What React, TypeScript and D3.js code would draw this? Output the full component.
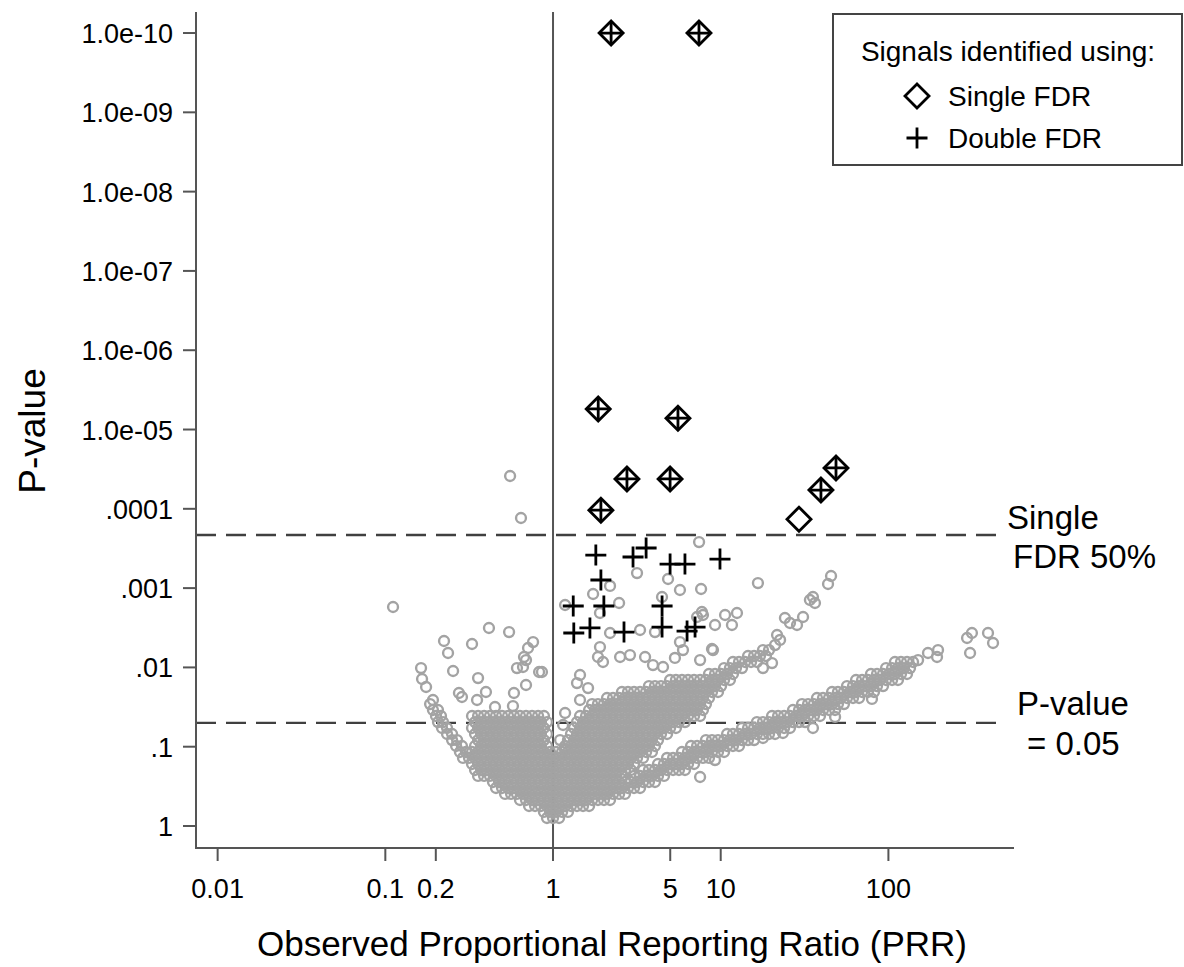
import React from "react";
import * as d3 from "d3";

const W = 1184;
const H = 967;

const xDomain = [0.00743, 561];
const yDomain = [1.894, 5.43e-11];
const xTicks = [0.01, 0.1, 0.2, 1, 5, 10, 100];
const xTickLabels = ["0.01", "0.1", "0.2", "1", "5", "10", "100"];
const yTicks = [1e-10, 1e-9, 1e-8, 1e-7, 1e-6, 1e-5, 1e-4, 1e-3, 1e-2, 1e-1, 1];
const yTickLabels = ["1.0e-10", "1.0e-09", "1.0e-08", "1.0e-07", "1.0e-06", "1.0e-05", ".0001", ".001", ".01", ".1", "1"];

const singleFdrThreshold = 2.14e-4;
const pValueThreshold = 0.05;

// [PRR, p-value]
const singleFDR: [number, number][] = [
  [2.22, 1.0e-10], [7.42, 1.0e-10], [1.86, 5.5e-6], [5.56, 7.2e-6], [2.76, 4.2e-5],
  [4.99, 4.2e-5], [1.93, 1.04e-4], [48.7, 3.05e-5], [39.6, 5.8e-5], [29.3, 1.35e-4],
];
const doubleFDR: [number, number][] = [
  [2.22, 1.0e-10], [7.42, 1.0e-10], [1.86, 5.5e-6], [5.56, 7.2e-6], [2.76, 4.2e-5],
  [4.99, 4.2e-5], [1.93, 1.04e-4], [48.7, 3.05e-5], [39.6, 5.8e-5],
  [1.8, 3.83e-4], [3.0, 4.05e-4], [3.59, 3.12e-4], [4.99, 4.97e-4], [6.12, 4.97e-4], [9.9, 4.3e-4],
  [1.93, 7.9e-4], [1.32, 1.68e-3], [2.01, 1.68e-3], [4.47, 1.68e-3], [1.33, 3.68e-3],
  [1.66, 3.18e-3], [2.65, 3.58e-3], [4.47, 3.1e-3], [6.3, 3.48e-3], [7.03, 3.1e-3],
];

// all other drug-event pairs, read in log units: rows of [-log10 p, [log10 PRR ...]]
const denseRows: [number, number[]][] = [
  [0.101, [-0.036, 0, 0.036]],
  [0.177, [-0.054, -0.018, 0.018, 0.054, 0.089]],
  [0.252, [-0.143, -0.107, -0.072, -0.036, 0, 0.036, 0.072, 0.107, 0.143, 0.179, 0.215]],
  [0.328, [-0.197, -0.161, -0.125, -0.089, -0.054, -0.018, 0.018, 0.054, 0.089, 0.125, 0.161, 0.197, 0.233, 0.268, 0.304, 0.34]],
  [0.404, [-0.286, -0.25, -0.215, -0.179, -0.143, -0.107, -0.072, -0.036, 0, 0.036, 0.072, 0.107, 0.143, 0.179, 0.215, 0.25, 0.286, 0.322, 0.358, 0.394, 0.429]],
  [0.479, [-0.34, -0.304, -0.268, -0.233, -0.197, -0.161, -0.125, -0.089, -0.054, -0.018, 0.018, 0.054, 0.089, 0.125, 0.161, 0.197, 0.233, 0.268, 0.304, 0.34, 0.376, 0.411, 0.447, 0.483, 0.519]],
  [0.555, [-0.358, -0.322, -0.286, -0.25, -0.215, -0.179, -0.143, -0.107, -0.072, -0.036, 0, 0.036, 0.072, 0.107, 0.143, 0.179, 0.215, 0.25, 0.286, 0.322, 0.358, 0.394, 0.429, 0.465, 0.501, 0.537, 0.572, 0.608]],
  [0.631, [-0.447, -0.411, -0.376, -0.34, -0.304, -0.268, -0.233, -0.197, -0.161, -0.125, -0.089, -0.054, -0.018, 0.018, 0.054, 0.089, 0.125, 0.161, 0.197, 0.233, 0.268, 0.304, 0.34, 0.376, 0.411, 0.483, 0.519, 0.555, 0.59, 0.626, 0.662]],
  [0.706, [-0.465, -0.429, -0.394, -0.358, -0.322, -0.286, -0.25, -0.215, -0.179, -0.143, -0.107, -0.072, -0.036, 0, 0.036, 0.072, 0.107, 0.143, 0.179, 0.215, 0.25, 0.286, 0.322, 0.358, 0.394, 0.429, 0.465, 0.537, 0.572, 0.608, 0.644, 0.68, 0.716, 0.751, 0.787]],
  [0.782, [-0.483, -0.447, -0.411, -0.376, -0.34, -0.304, -0.268, -0.233, -0.197, -0.161, -0.125, -0.089, -0.054, -0.018, 0.018, 0.054, 0.089, 0.125, 0.161, 0.197, 0.233, 0.268, 0.304, 0.34, 0.376, 0.411, 0.447, 0.483, 0.626, 0.662, 0.698, 0.733, 0.769, 0.805, 0.841]],
  [0.858, [-0.537, -0.501, -0.465, -0.429, -0.394, -0.358, -0.322, -0.286, -0.25, -0.215, -0.179, -0.143, -0.107, -0.072, -0.036, 0, 0.036, 0.072, 0.107, 0.143, 0.179, 0.215, 0.25, 0.286, 0.322, 0.358, 0.394, 0.429, 0.465, 0.501, 0.537, 0.68, 0.716, 0.751, 0.787, 0.823, 0.859, 0.894, 0.93]],
  [0.933, [-0.555, -0.519, -0.483, -0.447, -0.411, -0.376, -0.34, -0.304, -0.268, -0.233, -0.197, -0.161, -0.125, -0.089, -0.054, -0.018, 0.018, 0.054, 0.089, 0.125, 0.161, 0.197, 0.233, 0.268, 0.304, 0.34, 0.376, 0.411, 0.447, 0.483, 0.519, 0.555, 0.59, 0.769, 0.805, 0.841, 0.877, 0.912, 0.948, 0.984, 1.02]],
  [1.009, [-0.578, -0.543, -0.465, -0.429, -0.394, -0.358, -0.322, -0.286, -0.25, -0.215, -0.179, -0.143, -0.107, -0.072, -0.036, 0.072, 0.107, 0.143, 0.179, 0.215, 0.25, 0.286, 0.322, 0.358, 0.394, 0.429, 0.465, 0.501, 0.537, 0.572, 0.608, 0.823, 0.859, 0.894, 0.93, 0.966, 1.002, 1.038, 1.073, 1.109]],
  [1.084, [-0.602, -0.572, -0.447, -0.411, -0.376, -0.34, -0.304, -0.268, -0.233, -0.197, -0.161, -0.125, -0.089, -0.054, 0.089, 0.125, 0.161, 0.197, 0.233, 0.268, 0.304, 0.34, 0.376, 0.411, 0.447, 0.483, 0.519, 0.555, 0.59, 0.626, 0.912, 0.948, 0.984, 1.02, 1.055, 1.091, 1.127, 1.163, 1.199]],
  [1.16, [-0.632, -0.602, -0.465, -0.429, -0.394, -0.358, -0.322, -0.286, -0.25, -0.215, -0.179, -0.143, -0.107, -0.072, -0.036, 0.107, 0.143, 0.179, 0.215, 0.25, 0.286, 0.322, 0.358, 0.394, 0.429, 0.465, 0.501, 0.537, 0.572, 0.608, 0.644, 0.68, 1.038, 1.073, 1.109, 1.145, 1.181, 1.216, 1.252, 1.288, 1.324]],
  [1.236, [-0.662, -0.632, -0.483, -0.447, -0.411, -0.376, -0.34, -0.304, -0.268, -0.233, -0.197, -0.161, -0.125, -0.089, -0.054, 0.125, 0.161, 0.197, 0.233, 0.268, 0.304, 0.34, 0.376, 0.411, 0.447, 0.483, 0.519, 0.555, 0.59, 0.626, 0.662, 0.698, 0.733, 1.127, 1.163, 1.199, 1.234, 1.27, 1.306, 1.342, 1.378, 1.413]],
  [1.311, [-0.686, -0.656, -0.465, -0.429, -0.394, -0.358, -0.322, -0.286, -0.25, -0.215, -0.179, -0.143, -0.107, -0.072, -0.036, 0.143, 0.179, 0.215, 0.25, 0.286, 0.322, 0.358, 0.394, 0.429, 0.465, 0.501, 0.537, 0.572, 0.608, 0.644, 0.68, 0.716, 0.751, 0.787, 1.216, 1.252, 1.288, 1.324, 1.36, 1.395, 1.431, 1.467, 1.503]],
  [1.387, [-0.698, -0.668, -0.483, -0.447, -0.411, -0.376, -0.34, -0.304, -0.268, -0.233, -0.197, -0.161, -0.125, -0.089, -0.054, 0.161, 0.197, 0.233, 0.268, 0.304, 0.34, 0.376, 0.411, 0.447, 0.483, 0.519, 0.555, 0.59, 0.626, 0.662, 0.698, 0.733, 0.769, 0.805, 0.841, 0.877, 1.306, 1.342, 1.378, 1.413, 1.449, 1.485, 1.521, 1.556, 1.592]],
  [1.463, [-0.716, -0.686, 0.215, 0.25, 0.286, 0.322, 0.358, 0.394, 0.429, 0.465, 0.501, 0.537, 0.572, 0.608, 0.644, 0.68, 0.716, 0.751, 0.787, 0.823, 0.859, 0.894, 1.431, 1.467, 1.503, 1.538, 1.574, 1.61, 1.646, 1.682]],
  [1.538, [-0.733, 0.233, 0.268, 0.304, 0.34, 0.376, 0.411, 0.447, 0.483, 0.519, 0.555, 0.59, 0.626, 0.662, 0.698, 0.733, 0.769, 0.805, 0.841, 0.877, 0.912, 1.485, 1.521, 1.556, 1.592, 1.628, 1.664, 1.699, 1.735]],
  [1.614, [0.322, 0.358, 0.394, 0.429, 0.465, 0.501, 0.537, 0.572, 0.608, 0.644, 0.68, 0.716, 0.751, 0.787, 0.823, 0.859, 0.894, 0.93, 1.574, 1.61, 1.646, 1.682, 1.717, 1.753, 1.789, 1.825]],
  [1.69, [0.411, 0.447, 0.483, 0.519, 0.555, 0.59, 0.626, 0.662, 0.698, 0.733, 0.769, 0.805, 0.841, 0.877, 0.912, 0.948, 0.984, 1.664, 1.699, 1.735, 1.771, 1.807, 1.843, 1.878, 1.914]],
  [1.765, [0.572, 0.608, 0.644, 0.68, 0.716, 0.751, 0.787, 0.823, 0.859, 0.894, 0.93, 0.966, 1.002, 1.753, 1.789, 1.825, 1.86, 1.896, 1.932, 1.968]],
  [1.841, [0.698, 0.733, 0.769, 0.805, 0.841, 0.877, 0.912, 0.948, 0.984, 1.02, 1.055, 1.807, 1.843, 1.878, 1.914, 1.95, 1.986, 2.022, 2.057]],
  [1.917, [0.93, 0.966, 1.002, 1.038, 1.073, 1.896, 1.932, 1.968, 2.004, 2.039, 2.075, 2.111]],
  [1.992, [1.02, 1.055, 1.091, 1.127, 1.986, 2.022, 2.057, 2.093, 2.129]],
  [2.068, [1.073, 1.109, 1.145, 1.181, 1.216, 2.039, 2.075, 2.111, 2.147]],
  [2.144, [1.163, 1.199, 1.234, 1.27]],
  [2.219, [1.252, 1.288]],
];

// scattered pairs: [log10 PRR, -log10 p]
const sparsePoints: [number, number][] = [
  [-0.954, 2.762], [-0.65, 2.333], [-0.626, 2.182], [-0.483, 2.295], [-0.382, 2.497], [-0.262, 2.446],
  [-0.787, 1.992], [-0.781, 1.854], [-0.757, 1.753], [-0.596, 1.955], [-0.447, 1.866], [-0.4, 1.69],
  [-0.561, 1.677], [-0.543, 1.627], [-0.453, 1.589], [-0.346, 1.501], [-0.239, 1.513], [-0.233, 1.677],
  [-0.161, 1.778], [-0.083, 1.942], [-0.215, 1.992], [-0.179, 2.005], [-0.161, 2.093], [-0.149, 2.245],
  [-0.119, 2.32], [-0.173, 2.131], [-0.716, 1.589], [-0.256, 4.414], [-0.191, 3.884], [-0.066, 1.942],
  [0.501, 3.19], [0.686, 3.115], [0.757, 2.976], [0.883, 2.989], [0.871, 3.581], [0.239, 2.926],
  [0.394, 2.812], [0.28, 2.686], [0.072, 2.787], [0.34, 3.027], [0.519, 2.472], [0.34, 2.434],
  [0.608, 2.446], [0.65, 2.888], [0.888, 2.699], [0.966, 2.535], [0.757, 2.32], [0.775, 2.219],
  [0.727, 2.119], [0.948, 2.232], [0.28, 2.257], [0.268, 2.131], [0.298, 2.068], [0.4, 2.131],
  [0.459, 2.156], [0.549, 2.131], [0.596, 2.03], [0.656, 2.005], [0.161, 1.904], [0.143, 1.803],
  [0.209, 1.74], [0.161, 1.589], [0.072, 1.425], [0.06, 1.274], [0.042, 1.084], [0.072, 0.958],
  [1.222, 3.064], [0.894, 2.661], [1.026, 2.661], [1.067, 2.535], [1.097, 2.686], [0.954, 2.219],
  [0.877, 2.093], [0.859, 2.636],
  [1.306, 2.055], [1.252, 1.992], [1.336, 2.409], [1.354, 2.346], [1.383, 2.623], [1.413, 2.56],
  [1.455, 2.535], [1.491, 2.636], [1.532, 2.85], [1.562, 2.812], [1.55, 2.888], [1.64, 3.052],
  [1.658, 3.153], [1.324, 2.282],
  [0.877, 0.618], [0.966, 0.832], [1.252, 1.11], [1.371, 1.173], [1.55, 1.236], [1.682, 1.375], [1.902, 1.602],
  [2.177, 2.093], [2.236, 2.182], [2.296, 2.219], [2.29, 2.131], [2.469, 2.371], [2.498, 2.434],
  [2.487, 2.182], [2.594, 2.434], [2.624, 2.308],
];

const FONT = "'Liberation Sans', Arial, Helvetica, sans-serif";
const AXIS = "#555555";
const GRAY = "#a3a3a3";

export default function App() {
  const x = d3.scaleLog().domain(xDomain).range([196, 1014]);
  const y = d3.scaleLog().domain(yDomain).range([848, 12]);

  const grayPts: [number, number][] = [];
  denseRows.forEach(([ly, lxs]) => lxs.forEach((lx) => grayPts.push([Math.pow(10, lx), Math.pow(10, -ly)])));
  sparsePoints.forEach(([lx, ly]) => grayPts.push([Math.pow(10, lx), Math.pow(10, -ly)]));

  const diamond = "M0,-12L12,0L0,12L-12,0Z";
  const plus = "M-10.5,0H10.5M0,-10.5V10.5";

  const [x0, x1] = x.range();
  const [yb, yt] = y.range();

  return (
    <svg width={W} height={H} style={{ position: "absolute", left: 0, top: 0, background: "#fff" }} fontFamily={FONT}>
      <rect width={W} height={H} fill="#fff" />
      {/* reference lines */}
      <line x1={x0} x2={1005} y1={y(singleFdrThreshold)} y2={y(singleFdrThreshold)} stroke="#404040" strokeWidth={2.4} strokeDasharray="20 10" />
      <line x1={x0} x2={1005} y1={y(pValueThreshold)} y2={y(pValueThreshold)} stroke="#404040" strokeWidth={2.4} strokeDasharray="20 10" />
      <line x1={x(1)} x2={x(1)} y1={yt} y2={yb} stroke={AXIS} strokeWidth={2} />

      {/* gray points */}
      <g fill="none" stroke={GRAY} strokeWidth={2.4}>
        {grayPts.map((d, i) => (
          <circle key={i} cx={x(d[0])} cy={y(d[1])} r={4.95} />
        ))}
      </g>

      {/* signals */}
      <g fill="none" stroke="#000" strokeWidth={2.8}>
        {singleFDR.map((d, i) => (
          <path key={"s" + i} d={diamond} transform={`translate(${x(d[0])},${y(d[1])})`} />
        ))}
        {doubleFDR.map((d, i) => (
          <path key={"d" + i} d={plus} transform={`translate(${x(d[0])},${y(d[1])})`} />
        ))}
      </g>

      {/* axes */}
      <line x1={x0} x2={x0} y1={yt} y2={yb} stroke={AXIS} strokeWidth={2} />
      <line x1={x0 - 1} x2={x1} y1={yb} y2={yb} stroke={AXIS} strokeWidth={2} />
      {yTicks.map((t, i) => (
        <g key={"yt" + i}>
          <line x1={x0 - 13} x2={x0} y1={y(t)} y2={y(t)} stroke={AXIS} strokeWidth={2} />
          <text x={173} y={y(t) + 10} textAnchor="end" fontSize={27} fill="#000">
            {yTickLabels[i]}
          </text>
        </g>
      ))}
      {xTicks.map((t, i) => (
        <g key={"xt" + i}>
          <line x1={x(t)} x2={x(t)} y1={yb} y2={yb + 13} stroke={AXIS} strokeWidth={2} />
          <text x={x(t)} y={898} textAnchor="middle" fontSize={27} fill="#000">
            {xTickLabels[i]}
          </text>
        </g>
      ))}
      <text x={612} y={956} textAnchor="middle" fontSize={35} fill="#000">
        Observed Proportional Reporting Ratio (PRR)
      </text>
      <text transform="translate(45,431) rotate(-90)" textAnchor="middle" fontSize={37} fill="#000">
        P-value
      </text>

      {/* annotations */}
      <g fontSize={33} fill="#000">
        <text x={1007} y={529}>Single</text>
        <text x={1013} y={568}>FDR 50%</text>
        <text x={1017} y={715}>P-value</text>
        <text x={1027} y={755}>= 0.05</text>
      </g>

      {/* legend */}
      <rect x={833} y={14} width={349} height={151} fill="#fff" stroke="#444" strokeWidth={2} />
      <text x={1008} y={61} textAnchor="middle" fontSize={28} fill="#000">
        Signals identified using:
      </text>
      <path d={diamond} transform="translate(917,96)" fill="none" stroke="#000" strokeWidth={2.8} />
      <path d={plus} transform="translate(917,138)" fill="none" stroke="#000" strokeWidth={2.8} />
      <text x={948} y={106} fontSize={28} fill="#000">Single FDR</text>
      <text x={948} y={148} fontSize={28} fill="#000">Double FDR</text>
    </svg>
  );
}
